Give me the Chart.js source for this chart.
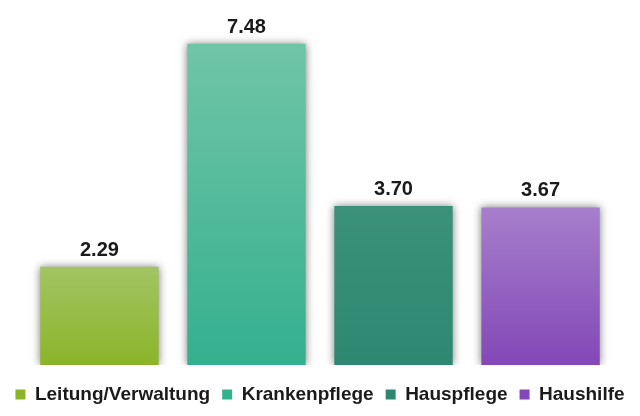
<!DOCTYPE html>
<html>
<head>
<meta charset="utf-8">
<script src="https://cdn.jsdelivr.net/npm/chart.js@4.4.1/dist/chart.umd.min.js"></script>
<style>
html,body{margin:0;padding:0;background:#fff;}
#wrap{width:640px;height:416px;position:relative;}
</style>
</head>
<body>
<div id="wrap"><canvas id="c"></canvas></div>
<script>
const categories = ['Leitung/Verwaltung', 'Krankenpflege', 'Hauspflege', 'Haushilfe'];
const values = [2.29, 7.48, 3.70, 3.67];
const topColors = ['#a3c464', '#70c5a7', '#3b917a', '#a67fcc'];
const bottomColors = ['#8bb528', '#34b08e', '#2e8871', '#8347b7'];
const legendColors = ['#93bd32', '#40b595', '#318b74', '#8b52c0'];

function makeFill(i) {
  return function (ctx) {
    const chart = ctx.chart;
    if (ctx.type !== 'data' || !chart.chartArea) return legendColors[i];
    const ys = chart.scales.y;
    const top = ys.getPixelForValue(values[i]);
    const bottom = ys.getPixelForValue(0);
    const g = chart.ctx.createLinearGradient(0, top, 0, bottom);
    g.addColorStop(0, topColors[i]);
    g.addColorStop(1, bottomColors[i]);
    return g;
  };
}

const datasets = categories.map((c, i) => ({
  label: c,
  data: [values[i]],
  backgroundColor: makeFill(i),
  borderWidth: 0,
  barPercentage: 0.805,
  categoryPercentage: 0.919
}));

const shadowPlugin = {
  id: 'shadow',
  beforeDatasetDraw(chart) {
    const c = chart.ctx;
    c.save();
    c.shadowColor = 'rgba(0,0,0,0.5)';
    c.shadowBlur = 8;
    c.shadowOffsetX = 0;
    c.shadowOffsetY = 0;
  },
  afterDatasetDraw(chart) {
    chart.ctx.restore();
  }
};

const valueLabels = {
  id: 'valueLabels',
  afterDatasetsDraw(chart) {
    const c = chart.ctx;
    c.save();
    c.font = 'bold 20px "Liberation Sans", Arial, sans-serif';
    c.fillStyle = '#1a1a1a';
    c.textAlign = 'center';
    c.textBaseline = 'alphabetic';
    chart.data.datasets.forEach((ds, i) => {
      const meta = chart.getDatasetMeta(i);
      const el = meta.data[0];
      if (!el) return;
      c.fillText(ds.data[0].toFixed(2), el.x, el.y - 11);
    });
    c.restore();
  }
};

new Chart(document.getElementById('c'), {
  type: 'bar',
  data: { labels: [''], datasets },
  options: {
    responsive: true,
    maintainAspectRatio: false,
    animation: false,
    layout: { padding: { top: 0, left: 0, right: 0, bottom: 2 } },
    scales: {
      x: {
        display: true,
        grid: { display: false },
        border: { display: false },
        ticks: { display: false },
        afterFit(scale) { scale.height = 8; }
      },
      y: {
        display: false,
        min: 0,
        max: 8.5
      }
    },
    plugins: {
      legend: {
        position: 'bottom',
        labels: {
          boxWidth: 10,
          boxHeight: 10,
          padding: 12,
          color: '#1a1a1a',
          font: { family: '"Liberation Sans", Arial, sans-serif', size: 19, weight: 'bold' }
        }
      },
      tooltip: { enabled: false }
    }
  },
  plugins: [shadowPlugin, valueLabels]
});
</script>
</body>
</html>
